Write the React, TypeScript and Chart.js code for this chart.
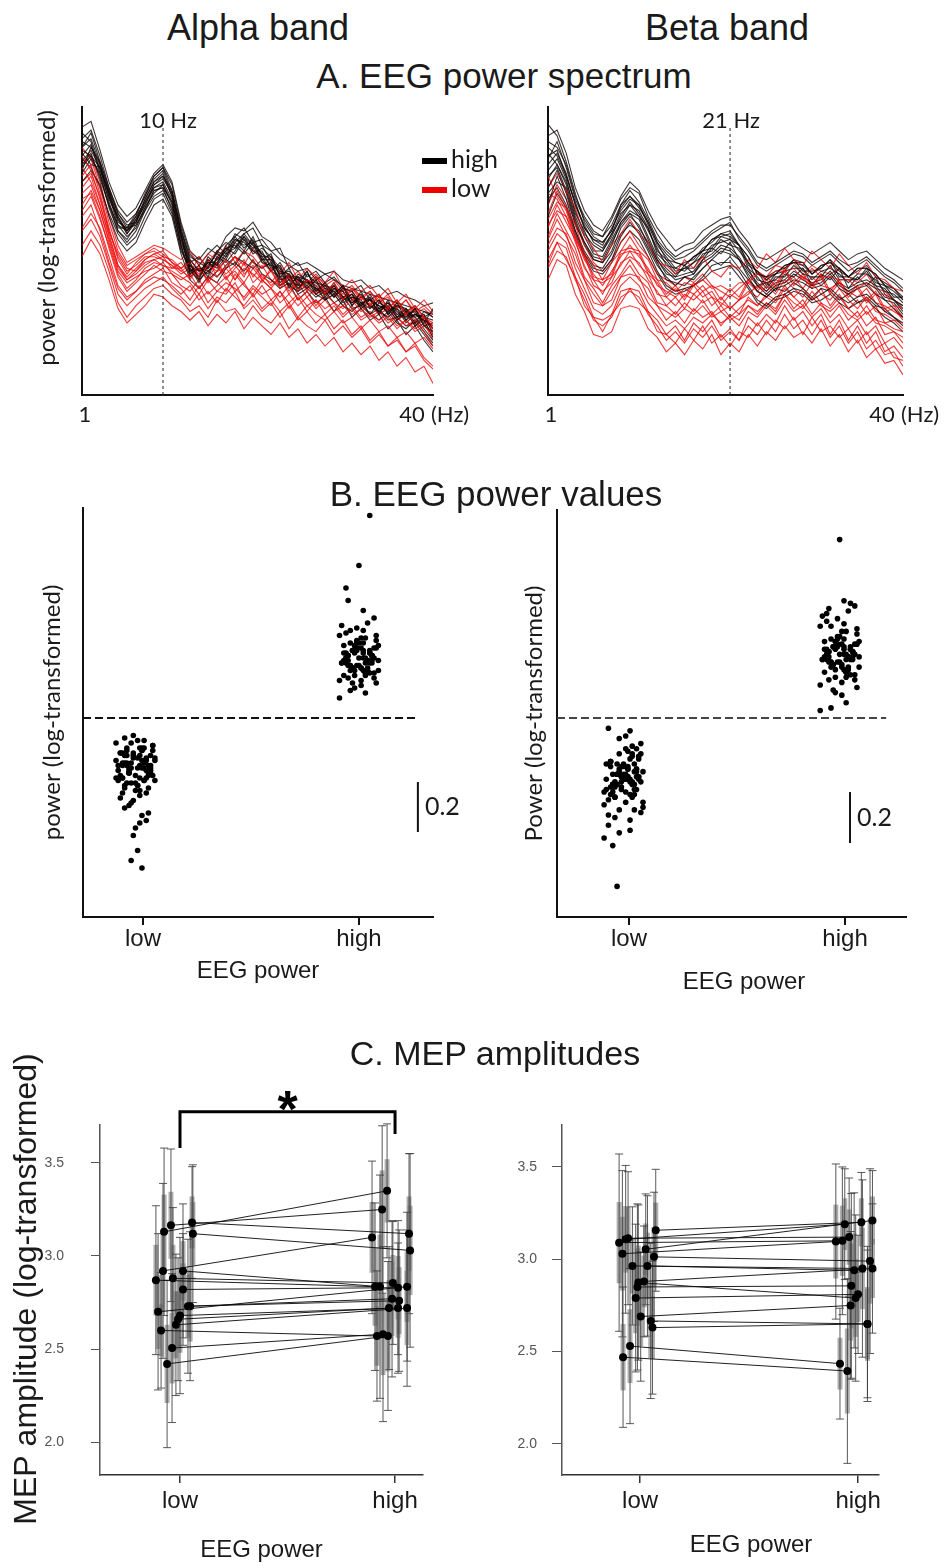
import React, { useEffect, useRef } from 'react';
import { Chart, registerables } from 'chart.js';
Chart.register(...registerables);

// ---------------- DATA ----------------
const HZ = [1,2,3,4,5,6,7,8,9,10,11,12,13,14,15,16,17,18,19,20,21,22,23,24,25,26,27,28,29,30,31,32,33,34,35,36,37,38,39,40];

// Panel A, alpha band: spectra of high-power (black) and low-power (red) trials (arbitrary log units, 0-100)
const alphaHighSpectra = [
  [86,89,80,69,61,56,61,68,74,77,69,55,46,40,47,45,52,55,51,54,47,49,41,44,38,43,36,39,35,38,31,36,30,33,28,32,26,30,24,22],
  [79,83,79,67,58,58,59,64,71,72,67,52,43,45,41,48,46,50,55,50,50,44,45,38,41,37,40,34,38,33,35,31,34,28,33,27,30,25,29,27],
  [91,88,78,70,62,57,62,67,73,76,71,58,47,43,44,50,53,51,56,52,49,47,43,42,36,42,39,38,34,37,36,32,33,31,29,31,30,27,28,21],
  [80,84,75,66,59,55,58,65,70,73,66,53,45,41,46,44,48,54,52,53,46,45,40,41,40,39,37,35,39,34,32,35,31,29,32,28,27,30,25,30],
  [84,80,79,71,63,59,60,66,73,75,70,56,42,44,43,46,51,49,54,49,51,48,44,37,42,40,35,37,36,32,34,33,28,32,30,26,29,27,23,19],
  [77,82,77,65,57,54,59,65,71,72,64,50,44,39,45,49,47,53,50,55,48,43,46,41,37,40,38,33,37,36,31,34,33,29,27,30,25,28,26,24],
  [88,86,80,70,60,58,63,69,75,78,70,57,48,46,44,47,50,56,54,51,52,46,42,43,40,38,41,37,34,38,33,31,35,30,32,29,26,28,27,26],
  [83,87,77,68,62,56,60,67,72,74,68,54,44,41,48,45,49,51,55,52,47,47,39,42,39,43,37,36,38,33,34,32,30,33,28,31,29,24,27,23],
  [81,85,79,69,59,57,61,66,72,73,67,55,43,44,42,48,51,52,49,53,49,45,44,40,38,39,39,35,36,36,32,34,31,30,31,27,28,29,24,25],
  [86,91,81,71,61,57,60,68,74,76,69,56,45,43,46,46,50,54,53,50,48,48,41,41,41,40,36,38,37,34,35,30,33,31,30,30,27,28,26,20],
  [74,78,73,62,54,50,53,60,66,68,62,49,40,37,41,39,44,46,43,47,42,40,37,39,33,36,32,34,29,33,27,30,26,28,23,26,21,24,19,15],
  [93,95,85,74,66,62,65,71,77,80,74,60,50,47,51,49,55,58,57,60,55,53,49,47,45,46,44,42,43,40,39,40,37,38,35,36,34,33,31,32],
  [85,83,76,66,57,53,57,64,69,71,65,52,41,44,40,43,47,45,50,46,44,46,38,40,35,37,34,36,32,34,30,31,28,30,26,27,24,25,21,17],
  [78,86,81,72,64,60,63,69,76,79,73,59,49,45,49,52,49,55,58,53,54,50,47,45,43,44,40,42,40,38,37,36,35,34,33,32,31,30,29,28],
  [82,79,72,63,56,52,55,62,68,70,63,51,43,40,43,41,45,48,46,44,47,43,41,38,36,38,35,33,35,31,29,32,28,26,29,25,23,26,22,18],
  [89,92,83,72,63,58,62,70,76,79,71,57,46,48,44,50,48,53,56,58,52,50,51,44,46,41,43,39,41,37,36,38,33,35,30,33,29,31,27,29],
];
const alphaLowSpectra = [
  [76,80,70,58,47,42,46,49,50,48,47,44,46,41,45,43,47,40,44,42,39,44,37,41,36,40,38,35,39,33,37,34,31,35,30,33,28,31,27,25],
  [62,66,57,46,37,33,36,40,42,44,39,37,33,38,32,36,35,39,33,37,34,31,36,30,34,29,33,28,31,27,30,26,28,25,27,23,26,22,24,21],
  [83,78,68,57,49,44,43,47,49,47,45,43,41,44,40,46,42,45,41,47,40,43,38,42,39,37,41,36,38,35,37,33,36,32,34,30,33,29,31,28],
  [52,57,52,43,32,27,31,34,37,38,35,33,29,31,27,33,29,30,26,31,27,25,29,23,27,24,22,26,21,24,20,23,18,21,17,19,15,17,12,9],
  [70,73,64,53,43,39,41,43,44,46,42,40,42,37,41,39,36,42,38,35,40,37,34,38,33,36,31,35,32,30,33,29,31,28,30,26,28,25,27,24],
  [58,63,58,48,38,34,36,39,41,40,38,35,38,33,36,32,37,34,31,35,30,33,29,32,27,31,28,26,29,25,27,23,26,22,24,20,22,18,20,16],
  [79,74,66,56,45,40,42,45,47,48,44,44,40,45,39,43,44,40,46,39,42,38,41,36,40,37,35,39,34,37,33,35,31,34,29,32,28,30,26,23],
  [48,54,49,40,30,25,28,31,35,34,31,29,26,29,24,28,25,29,23,27,24,21,25,20,23,18,21,17,20,15,18,14,17,12,15,10,13,8,10,4],
  [68,70,62,51,41,36,39,42,45,43,42,38,36,40,35,38,41,36,39,34,38,33,36,32,35,31,33,30,32,28,31,27,29,26,28,24,26,23,25,19],
  [64,69,61,52,42,37,40,44,46,45,43,41,39,35,40,36,39,37,34,38,35,37,32,35,31,34,30,33,29,31,28,30,27,29,25,27,24,26,22,17],
  [80,83,74,62,52,46,48,50,52,51,49,47,50,45,49,47,52,46,50,48,44,48,42,46,40,44,41,39,43,37,40,36,38,34,37,32,35,30,33,29],
  [72,76,66,55,45,41,44,47,49,50,46,43,45,42,47,41,44,48,42,45,41,39,43,38,41,36,40,35,37,34,36,31,34,30,32,28,30,26,28,23],
  [66,71,64,54,44,40,43,46,47,45,44,46,42,48,43,45,40,44,47,41,45,40,38,42,37,40,35,38,36,33,35,31,33,29,31,27,29,24,26,20],
  [86,82,72,60,50,45,47,49,51,49,46,44,47,43,46,50,44,48,45,51,46,43,45,40,43,39,42,38,40,36,38,34,36,32,35,30,33,28,30,27],
  [57,61,55,45,35,31,34,37,39,41,37,34,31,35,30,34,32,36,30,33,29,32,27,31,26,29,25,28,23,26,21,24,19,22,17,20,15,18,13,10],
  [74,77,69,57,48,43,45,48,48,47,45,42,44,40,43,46,41,43,39,44,40,37,41,35,39,34,37,33,35,31,34,30,32,28,30,26,28,25,27,22],
];
// Panel A, beta band
const betaHighSpectra = [
  [80,84,77,66,58,54,52,58,64,68,66,59,52,48,44,46,47,51,53,56,55,52,46,43,40,42,45,46,45,42,45,46,43,41,44,44,42,38,36,33],
  [72,78,70,59,53,47,46,50,58,62,59,52,46,40,39,38,41,44,47,50,49,47,41,36,34,37,38,40,39,37,38,41,37,35,37,38,35,33,30,27],
  [88,86,80,69,62,57,55,61,68,72,70,62,56,51,48,50,51,54,57,59,59,55,51,46,44,46,48,50,49,46,48,50,47,45,46,48,45,42,40,37],
  [66,76,68,57,49,44,43,47,55,60,56,50,43,38,36,37,38,41,45,46,46,43,38,33,31,34,35,37,36,33,35,37,34,32,34,35,32,29,27,24],
  [94,90,81,70,60,55,53,57,65,69,66,60,53,49,46,45,48,50,54,55,56,52,48,42,41,43,44,47,46,42,44,47,44,41,43,45,41,39,37,34],
  [78,82,75,63,57,50,50,56,61,66,62,58,49,46,42,44,44,49,50,54,52,51,44,41,37,41,41,45,42,41,41,45,40,40,40,43,38,37,33,31],
  [83,85,76,67,58,54,53,57,66,69,65,60,53,47,46,45,48,50,54,56,57,52,48,42,41,42,45,46,46,42,45,46,44,41,44,44,42,38,37,33],
  [70,74,72,61,53,48,47,53,59,63,61,54,47,43,40,41,42,46,48,51,50,47,42,38,35,38,39,42,40,38,39,42,38,36,38,39,37,33,32,28],
  [84,80,74,64,56,52,50,55,62,67,63,57,51,45,44,43,46,48,52,53,54,50,46,40,39,40,43,44,44,40,43,44,42,39,42,42,40,36,35,32],
  [75,80,73,62,55,49,48,54,60,64,62,55,48,44,41,42,43,47,49,52,51,48,43,39,36,39,40,43,41,39,40,43,39,37,39,40,38,34,33,29],
  [68,72,66,57,50,45,44,49,56,59,57,51,45,41,38,41,40,44,47,45,48,44,40,36,34,37,36,39,37,34,37,36,33,35,32,34,31,30,27,25],
  [90,92,84,72,64,59,57,62,69,74,71,64,58,54,50,52,53,57,59,61,62,57,53,48,47,49,51,53,51,49,51,53,50,47,49,50,47,44,42,40],
  [76,79,71,60,52,47,46,52,60,63,58,53,47,42,41,45,42,47,51,49,53,47,44,38,39,36,42,41,44,38,42,40,44,37,41,38,41,35,33,30],
  [82,88,79,68,61,56,55,59,66,71,67,61,54,50,47,48,50,53,56,58,60,54,50,45,43,45,47,49,48,45,47,49,46,43,45,47,44,41,39,36],
  [62,70,65,56,48,43,42,46,53,57,54,48,42,37,35,36,38,40,43,44,45,41,37,32,30,33,34,36,35,32,33,35,32,30,32,33,30,27,25,22],
  [86,83,76,66,59,53,51,56,63,66,64,58,50,47,43,44,46,50,51,55,54,52,45,43,38,42,43,47,43,43,44,47,41,41,40,44,39,38,34,34],
];
const betaLowSpectra = [
  [63,71,65,59,49,45,40,46,50,55,50,47,40,39,36,39,38,40,37,38,36,39,39,42,40,43,43,44,40,44,41,41,40,40,37,39,35,35,31,30],
  [47,53,51,41,35,27,26,28,36,37,36,29,26,21,24,19,25,22,26,20,23,19,27,24,28,25,31,26,29,24,28,21,26,19,24,18,22,15,17,13],
  [72,77,71,65,55,51,46,52,56,61,56,53,46,45,42,47,44,48,43,41,45,44,47,44,49,46,51,47,45,50,47,44,49,45,42,46,41,40,37,36],
  [40,47,45,35,29,21,20,22,30,31,30,23,20,15,18,14,19,16,21,14,18,15,21,17,22,19,24,20,22,18,23,17,21,15,19,13,16,11,12,7],
  [58,66,60,54,44,40,35,41,45,50,45,42,35,34,31,35,33,36,31,34,30,33,36,34,38,35,40,37,34,39,35,33,37,33,30,34,29,28,26,25],
  [52,58,56,46,40,32,31,33,41,42,41,34,31,26,29,25,30,27,29,24,28,26,31,28,32,29,35,30,33,28,32,27,31,26,29,24,27,21,22,18],
  [76,69,64,54,48,40,39,41,49,50,49,42,39,34,37,33,38,34,36,31,35,33,39,36,40,37,43,38,41,37,41,35,39,34,37,32,35,29,30,26],
  [45,53,47,41,31,27,22,28,32,37,32,29,22,21,18,23,19,24,18,21,17,22,20,25,21,26,23,27,21,27,22,24,20,23,18,22,16,18,13,12],
  [61,67,65,55,49,41,40,42,50,51,50,43,40,35,38,34,39,36,38,33,37,34,40,37,41,38,44,39,42,38,42,36,40,35,38,33,36,30,31,27],
  [55,63,57,51,41,37,32,38,42,47,42,39,32,31,28,32,29,33,28,31,27,30,33,31,34,32,37,34,31,36,32,30,34,30,27,31,26,25,23,22],
  [66,73,68,60,52,46,43,47,53,57,52,48,42,40,38,41,39,42,38,36,34,37,40,43,41,45,44,46,42,45,43,42,44,41,39,42,37,36,33,31],
  [50,56,53,44,37,30,28,31,38,41,38,32,28,24,26,23,27,25,28,25,27,24,29,27,31,28,33,29,31,27,30,25,28,23,26,21,24,18,20,16],
  [70,68,62,55,47,42,38,43,48,52,48,44,38,36,34,37,35,38,34,32,30,33,35,38,36,40,39,41,37,41,38,37,39,36,34,37,32,31,29,27],
  [44,50,48,40,33,26,24,27,34,36,34,28,24,19,22,18,23,20,24,19,22,19,24,21,26,22,28,23,26,21,26,20,24,18,22,16,19,14,15,10],
  [59,64,62,53,45,38,36,39,46,48,46,40,36,31,34,30,35,32,34,29,31,28,34,31,35,33,38,34,37,33,37,31,35,30,33,28,31,25,26,23],
  [54,61,55,49,40,35,31,36,41,45,40,37,31,29,27,30,28,31,27,29,26,28,31,29,32,30,35,32,30,34,31,29,32,28,26,29,25,24,22,20],
];
const PEAK_ALPHA_HZ = 10;
const PEAK_BETA_HZ = 21;

// Panel B: single-trial power values relative to the median split (0 = dashed line)
const JITTER = [
  0.02,-0.05,0.07,-0.01,0.04,-0.08,0.01,0.06,-0.03,0.09,
  -0.06,0.03,-0.02,0.05,-0.09,0.0,0.08,-0.04,0.02,-0.07,
  0.06,-0.01,0.04,-0.05,0.01,-0.03,0.07,-0.06,0.03,0.0,
  -0.08,0.05,-0.02,0.09,-0.04,0.02,-0.07,0.06,-0.01,0.03,
  -0.05,0.08,-0.03,0.01,-0.06,0.04,-0.09,0.02,0.05,-0.02,
  0.07,-0.04,0.0,0.03,-0.07,0.06,-0.01,0.04,-0.05,0.08,
  -0.03,0.01,-0.08,0.05,-0.02,0.03,-0.06,0.07,-0.04,0.02,
  -0.01,0.06,-0.05,0.0,0.09,-0.03,0.04,-0.07,0.01,0.05,
  -0.02,0.03,-0.06,0.08,-0.04,0.02,-0.09,0.06,-0.01,0.04,
  -0.05,0.07,-0.03,0.01,-0.02,0.03,-0.06,0.05,-0.04,0.02];
const alphaLowPower = [
  -0.12,-0.18,-0.22,-0.15,-0.25,-0.19,-0.09,-0.28,-0.21,-0.16,
  -0.24,-0.13,-0.2,-0.3,-0.17,-0.23,-0.11,-0.26,-0.19,-0.14,
  -0.22,-0.33,-0.18,-0.08,-0.27,-0.2,-0.15,-0.24,-0.12,-0.29,
  -0.21,-0.17,-0.1,-0.25,-0.19,-0.31,-0.14,-0.23,-0.16,-0.2,
  -0.36,-0.13,-0.22,-0.27,-0.18,-0.09,-0.24,-0.15,-0.21,-0.34,
  -0.19,-0.12,-0.26,-0.17,-0.23,-0.38,-0.14,-0.2,-0.28,-0.11,
  -0.22,-0.16,-0.25,-0.41,-0.18,-0.13,-0.3,-0.21,-0.15,-0.24,
  -0.07,-0.19,-0.27,-0.44,-0.17,-0.22,-0.12,-0.32,-0.2,-0.16,
  -0.26,-0.39,-0.14,-0.23,-0.18,-0.29,-0.1,-0.21,-0.47,-0.25,
  -0.15,-0.2,-0.35,-0.53,-0.57,-0.6,-0.19,-0.24,-0.13,-0.42];
const alphaHighPower = [
  0.22,0.28,0.18,0.25,0.31,0.2,0.15,0.26,0.23,0.33,
  0.19,0.27,0.12,0.24,0.3,0.21,0.17,0.29,0.25,0.36,
  0.2,0.23,0.14,0.27,0.32,0.22,0.18,0.26,0.1,0.24,
  0.28,0.19,0.35,0.21,0.25,0.16,0.3,0.23,0.2,0.38,
  0.26,0.13,0.22,0.29,0.18,0.24,0.33,0.21,0.27,0.15,
  0.23,0.31,0.19,0.25,0.4,0.2,0.28,0.17,0.22,0.34,
  0.26,0.11,0.24,0.3,0.21,0.18,0.27,0.23,0.37,0.2,
  0.25,0.14,0.29,0.22,0.32,0.19,0.26,0.08,0.24,0.28,
  0.21,0.43,0.17,0.25,0.3,0.23,0.47,0.2,0.27,0.16,
  0.52,0.24,0.61,0.22,0.81,0.29,0.19,0.35,0.26,0.23];
const betaLowPower = [
  -0.2,-0.26,-0.15,-0.23,-0.31,-0.18,-0.12,-0.28,-0.22,-0.35,
  -0.17,-0.25,-0.08,-0.21,-0.29,-0.19,-0.14,-0.27,-0.24,-0.38,
  -0.2,-0.23,-0.11,-0.26,-0.33,-0.22,-0.16,-0.3,-0.05,-0.24,
  -0.28,-0.18,-0.36,-0.21,-0.25,-0.13,-0.32,-0.23,-0.19,-0.4,
  -0.27,-0.1,-0.22,-0.29,-0.17,-0.25,-0.34,-0.2,-0.26,-0.14,
  -0.23,-0.31,-0.18,-0.24,-0.42,-0.21,-0.28,-0.15,-0.22,-0.37,
  -0.26,-0.07,-0.24,-0.3,-0.2,-0.16,-0.27,-0.23,-0.39,-0.19,
  -0.25,-0.12,-0.29,-0.22,-0.33,-0.18,-0.26,-0.04,-0.24,-0.28,
  -0.21,-0.44,-0.17,-0.25,-0.31,-0.23,-0.47,-0.2,-0.27,-0.14,
  -0.5,-0.24,-0.66,-0.22,-0.45,-0.3,-0.19,-0.36,-0.26,-0.23];
const betaHighPower = [
  0.23,0.29,0.18,0.26,0.33,0.21,0.14,0.27,0.24,0.36,
  0.19,0.28,0.1,0.25,0.31,0.22,0.16,0.3,0.26,0.39,
  0.2,0.24,0.12,0.28,0.34,0.23,0.17,0.27,0.06,0.25,
  0.29,0.2,0.37,0.22,0.26,0.15,0.32,0.24,0.21,0.42,
  0.27,0.09,0.23,0.3,0.18,0.25,0.35,0.22,0.28,0.13,
  0.24,0.32,0.19,0.26,0.44,0.21,0.29,0.16,0.23,0.38,
  0.27,0.04,0.25,0.31,0.22,0.17,0.28,0.24,0.4,0.2,
  0.26,0.11,0.3,0.23,0.34,0.19,0.27,0.03,0.25,0.29,
  0.22,0.46,0.18,0.26,0.31,0.24,0.43,0.21,0.28,0.15,
  0.41,0.25,0.7,0.23,0.45,0.3,0.2,0.36,0.27,0.24];
const CLOUD_X = { alphaLow: 0.965, alphaHigh: 2.0, betaLow: 0.975, betaHigh: 1.975 };
const SCALE_BAR = 0.2;

// Panel C: per-subject MEP amplitudes (log) for low / high EEG power
const alphaMepLow  = [3.13,3.165,3.18,3.12,2.92,2.87,2.92,2.88,2.82,2.70,2.73,2.73,2.66,2.68,2.63,2.60,2.505,2.42];
const alphaMepHigh = [3.35,3.25,3.12,3.03,3.10,2.835,2.835,2.855,2.83,2.835,2.77,2.76,2.72,2.72,2.72,2.57,2.58,2.57];
const alphaLowJit  = [-0.074,-0.042,0.056,0.06,-0.079,-0.112,0.014,-0.033,0.014,-0.102,0.037,0.047,-0.009,0.0,-0.019,-0.088,-0.037,-0.06];
const alphaHighJit = [-0.037,-0.06,0.065,0.07,-0.107,-0.093,-0.07,-0.01,0.014,0.056,-0.014,0.019,-0.028,0.014,0.056,-0.084,-0.056,-0.033];
const alphaLowSD   = [0.45,0.41,0.3,0.37,0.47,0.4,0.36,0.38,0.3,0.42,0.36,0.4,0.33,0.42,0.38,0.31,0.4,0.45];
const alphaHighSD  = [0.36,0.45,0.43,0.52,0.41,0.45,0.6,0.33,0.36,0.4,0.42,0.38,0.33,0.35,0.42,0.35,0.47,0.4];
const alphaLowSE   = [0.2,0.18,0.14,0.17,0.22,0.19,0.16,0.18,0.14,0.2,0.17,0.19,0.15,0.2,0.18,0.14,0.19,0.21];
const alphaHighSE  = [0.17,0.21,0.2,0.24,0.19,0.21,0.28,0.15,0.17,0.19,0.2,0.18,0.15,0.16,0.2,0.16,0.22,0.19];

const betaMepLow  = [3.09,3.03,3.108,3.114,3.157,3.054,3.013,2.964,2.964,2.85,2.79,2.874,2.69,2.666,2.63,2.47,2.53,2.88];
const betaMepHigh = [3.10,3.096,3.19,3.12,3.20,3.21,2.99,2.95,2.94,2.856,2.81,2.79,2.75,2.65,2.65,2.395,2.435,2.95];
const betaLowJit  = [-0.096,-0.081,-0.066,-0.055,0.072,0.026,0.064,-0.035,0.034,-0.012,-0.02,-0.008,0.003,0.049,0.057,-0.078,-0.046,0.018];
const betaHighJit = [-0.072,-0.102,-0.061,-0.041,0.015,0.066,0.055,0.02,-0.018,-0.031,0.0,-0.011,-0.034,0.043,0.043,-0.049,-0.083,0.066];
const betaLowSD   = [0.48,0.45,0.4,0.36,0.33,0.3,0.35,0.32,0.38,0.45,0.4,0.42,0.35,0.42,0.36,0.38,0.42,0.3];
const betaHighSD  = [0.4,0.42,0.3,0.32,0.27,0.27,0.5,0.48,0.42,0.5,0.32,0.45,0.4,0.42,0.4,0.5,0.3,0.35];
const betaLowSE   = [0.22,0.2,0.18,0.17,0.15,0.14,0.16,0.15,0.18,0.21,0.19,0.2,0.16,0.2,0.17,0.18,0.2,0.14];
const betaHighSE  = [0.19,0.2,0.14,0.15,0.13,0.13,0.23,0.22,0.2,0.23,0.15,0.21,0.19,0.2,0.19,0.23,0.14,0.16];

const MEP_TICKS = [2.0, 2.5, 3.0, 3.5];
const GROUPS = ['low', 'high'];
const BRACKET = { y: 3.775, lowEnd: 3.58, highEnd: 3.655 };

// ---------------- LAYOUT HELPERS ----------------
type Rect = { x: number; y: number; w: number; h: number };
type Plot = { l: number; t: number; r: number; b: number };
const ARIAL = '"Liberation Sans", Arial, sans-serif';
const CAL = 'Lato, "Open Sans", sans-serif';
const INK = '#1a1a1a';

function frame(cv: Rect, p: Plot) {
  return {
    layout: { padding: { left: 0, top: p.t - cv.y, right: cv.x + cv.w - p.r, bottom: 0 } },
    yFit: (s: any) => { s.width = p.l - cv.x; s.paddingTop = 0; s.paddingBottom = 0; },
    xFit: (s: any) => { s.height = cv.y + cv.h - p.b; s.paddingLeft = 0; s.paddingRight = 0; },
  };
}

function text(ctx: CanvasRenderingContext2D, t: string, x: number, y: number, font: string, align: CanvasTextAlign = 'center', rot = 0, color = INK) {
  ctx.save();
  ctx.translate(x, y);
  if (rot) ctx.rotate(rot);
  ctx.font = font;
  ctx.fillStyle = color;
  ctx.textAlign = align;
  ctx.textBaseline = 'middle';
  ctx.fillText(t, 0, 0);
  ctx.restore();
}

const baseOpts = {
  animation: false,
  responsive: false,
  maintainAspectRatio: false,
  events: [],
  plugins: { legend: { display: false }, tooltip: { enabled: false }, title: { display: false } },
};

// ---------------- PANEL A ----------------
function spectrumConfig(cv: Rect, p: Plot, black: number[][], red: number[][], peakHz: number, peakLabel: string, labelDx: number, legend: boolean, yTitle: boolean) {
  const f = frame(cv, p);
  const datasets: any[] = [];
  for (let i = 0; i < Math.max(black.length, red.length); i++) {
    if (black[i]) datasets.push({ data: HZ.map((h, j) => ({ x: h, y: black[i][j] })), borderColor: 'rgba(20,8,8,0.82)', borderWidth: 1.1, pointRadius: 0, tension: 0 });
    if (red[i]) datasets.push({ data: HZ.map((h, j) => ({ x: h, y: red[i][j] })), borderColor: 'rgba(238,12,12,0.82)', borderWidth: 1.1, pointRadius: 0, tension: 0 });
  }
  const deco = {
    id: 'spectrumDeco',
    afterDatasetsDraw(chart: any) {
      const { ctx, chartArea: a, scales: { x } } = chart;
      const px = x.getPixelForValue(peakHz);
      ctx.save();
      ctx.strokeStyle = '#222';
      ctx.lineWidth = 1;
      ctx.setLineDash([3, 3]);
      ctx.beginPath();
      ctx.moveTo(px, a.top + 21);
      ctx.lineTo(px, a.bottom);
      ctx.stroke();
      ctx.restore();
      text(ctx, peakLabel, px + labelDx, a.top + 14, `22px ${CAL}`);
      const x1 = x.getPixelForValue(HZ[0]);
      const x40 = x.getPixelForValue(HZ[HZ.length - 1]);
      text(ctx, String(HZ[0]), x1 + 3, a.bottom + 20, `22px ${CAL}`);
      text(ctx, String(HZ[HZ.length - 1]), x40 - 21, a.bottom + 20, `22px ${CAL}`);
      text(ctx, '(Hz)', x40 - 2, a.bottom + 20, `22px ${CAL}`, 'left');
      if (legend) {
        ctx.fillStyle = '#000';
        ctx.fillRect(a.right - 11, a.top + 51, 25, 6);
        ctx.fillStyle = '#ee0000';
        ctx.fillRect(a.right - 11, a.top + 80, 25, 6);
        text(ctx, 'high', a.right + 18, a.top + 53, `25px ${CAL}`, 'left');
        text(ctx, 'low', a.right + 18, a.top + 82, `25px ${CAL}`, 'left');
      }
      if (yTitle) text(ctx, 'power (log-transformed)', 47 - cv.x, 238 - cv.y, `24px ${CAL}`, 'center', -Math.PI / 2);
    },
  };
  return {
    type: 'line',
    data: { datasets },
    options: {
      ...baseOpts,
      layout: f.layout,
      scales: {
        x: { type: 'linear', min: HZ[0], max: HZ[HZ.length - 1], afterFit: f.xFit, grid: { display: false }, ticks: { display: false }, border: { display: true, color: '#111', width: 2 } },
        y: { type: 'linear', min: 0, max: 100, afterFit: f.yFit, grid: { display: false }, ticks: { display: false }, border: { display: true, color: '#111', width: 2 } },
      },
    },
    plugins: [deco],
  };
}

// ---------------- PANEL B ----------------
function powerConfig(cv: Rect, p: Plot, low: number[], high: number[], lowX: number, highX: number, xMin: number, xMax: number, yMin: number, yMax: number,
  dashEnd: number, barX: number, barTop: number, dashColor: string, yTitleText: string, yTitlePad: number, xTitleChart: boolean, xTitlePage: [number, number] | null) {
  const f = frame(cv, p);
  const n = JITTER.length;
  const lowPts = low.map((v, i) => ({ x: lowX + JITTER[i % n], y: v }));
  const highPts = high.map((v, i) => ({ x: highX + JITTER[(i + 37) % n], y: v }));
  const deco = {
    id: 'powerDeco',
    beforeDatasetsDraw(chart: any) {
      const { ctx, chartArea: a, scales: { x, y } } = chart;
      ctx.save();
      ctx.strokeStyle = dashColor;
      ctx.lineWidth = 2;
      ctx.setLineDash([8, 4]);
      const y0 = y.getPixelForValue(0);
      ctx.beginPath();
      ctx.moveTo(a.left, y0);
      ctx.lineTo(x.getPixelForValue(dashEnd), y0);
      ctx.stroke();
      ctx.setLineDash([]);
      ctx.strokeStyle = '#111';
      const bx = x.getPixelForValue(barX);
      ctx.beginPath();
      ctx.moveTo(bx, y.getPixelForValue(barTop));
      ctx.lineTo(bx, y.getPixelForValue(barTop - SCALE_BAR));
      ctx.stroke();
      ctx.restore();
      text(ctx, String(SCALE_BAR), bx + 7, y.getPixelForValue(barTop - SCALE_BAR / 2), `25px ${CAL}`, 'left');
      if (xTitlePage) text(ctx, 'EEG power', xTitlePage[0] - cv.x, xTitlePage[1] - cv.y, `24px ${ARIAL}`);
    },
  };
  return {
    type: 'scatter',
    data: {
      datasets: [
        { data: lowPts, pointRadius: 2.8, pointStyle: 'circle', backgroundColor: '#000', borderWidth: 0 },
        { data: highPts, pointRadius: 2.8, pointStyle: 'circle', backgroundColor: '#000', borderWidth: 0 },
      ],
    },
    options: {
      ...baseOpts,
      layout: f.layout,
      scales: {
        x: {
          type: 'linear', min: xMin, max: xMax, afterFit: f.xFit,
          afterBuildTicks: (s: any) => { s.ticks = [{ value: 1 }, { value: 2 }]; },
          ticks: { callback: (v: number) => GROUPS[v - 1], font: { family: ARIAL, size: 24 }, color: INK, padding: 0, maxRotation: 0, autoSkip: false },
          grid: { display: true, drawOnChartArea: false, drawTicks: true, tickLength: 8, color: '#111', lineWidth: 2 },
          border: { display: true, color: '#111', width: 2 },
          title: { display: xTitleChart, text: 'EEG power', font: { family: ARIAL, size: 24 }, color: INK, padding: { top: 0, bottom: 14 } },
        },
        y: {
          type: 'linear', min: yMin, max: yMax, afterFit: f.yFit,
          grid: { display: false }, ticks: { display: false },
          border: { display: true, color: '#111', width: 2 },
          title: { display: true, text: yTitleText, font: { family: CAL, size: 24 }, color: INK, padding: { top: yTitlePad, bottom: 0 } },
        },
      },
    },
    plugins: [deco],
  };
}

// ---------------- PANEL C ----------------
function mepConfig(cv: Rect, p: Plot, xMin: number, xMax: number, yMin: number, yMax: number,
  low: number[], high: number[], lowJ: number[], highJ: number[], lowSD: number[], highSD: number[], lowSE: number[], highSE: number[],
  tickPad: number, tickLen: number, extras: { yTitle?: boolean; bracket?: boolean; xTitleChart: boolean; xTitlePage?: [number, number] }) {
  const f = frame(cv, p);
  const datasets = low.map((v, i) => ({
    data: [{ x: 1 + lowJ[i], y: v }, { x: 2 + highJ[i], y: high[i] }],
    borderColor: 'rgba(10,10,10,0.9)', borderWidth: 1, pointRadius: 4, pointBackgroundColor: '#000', pointBorderWidth: 0, showLine: true, tension: 0,
  }));
  const deco = {
    id: 'mepDeco',
    beforeDatasetsDraw(chart: any) {
      const { ctx, scales: { x, y } } = chart;
      ctx.save();
      chart.data.datasets.forEach((ds: any, i: number) => {
        ds.data.forEach((pt: any, j: number) => {
          const px = x.getPixelForValue(pt.x);
          const se = j === 0 ? lowSE[i] : highSE[i];
          const sd = j === 0 ? lowSD[i] : highSD[i];
          const s1 = y.getPixelForValue(pt.y + se), s2 = y.getPixelForValue(pt.y - se);
          ctx.fillStyle = 'rgba(110,110,110,0.55)';
          ctx.fillRect(px - 2.5, s1, 5, s2 - s1);
          const t = y.getPixelForValue(pt.y + sd), b = y.getPixelForValue(pt.y - sd);
          ctx.strokeStyle = 'rgba(60,60,60,0.85)';
          ctx.lineWidth = 1;
          ctx.beginPath();
          ctx.moveTo(px, t); ctx.lineTo(px, b);
          ctx.moveTo(px - 4, t); ctx.lineTo(px + 4, t);
          ctx.moveTo(px - 4, b); ctx.lineTo(px + 4, b);
          ctx.stroke();
        });
      });
      ctx.restore();
    },
    afterDatasetsDraw(chart: any) {
      const { ctx, scales: { x, y } } = chart;
      if (extras.bracket) {
        const xl = x.getPixelForValue(1), xr = x.getPixelForValue(2), yt = y.getPixelForValue(BRACKET.y);
        ctx.save();
        ctx.strokeStyle = '#000';
        ctx.lineWidth = 3;
        ctx.beginPath();
        ctx.moveTo(xl, y.getPixelForValue(BRACKET.lowEnd));
        ctx.lineTo(xl, yt);
        ctx.lineTo(xr, yt);
        ctx.lineTo(xr, y.getPixelForValue(BRACKET.highEnd));
        ctx.stroke();
        ctx.restore();
        ctx.save();
        ctx.font = `bold 52px ${ARIAL}`;
        ctx.fillStyle = '#000';
        ctx.textAlign = 'center';
        ctx.textBaseline = 'alphabetic';
        ctx.fillText('*', (xl + xr) / 2, yt + 15);
        ctx.restore();
      }
      if (extras.yTitle) text(ctx, 'MEP amplitude (log-transformed)', 27 - cv.x, 1289 - cv.y, `32px ${ARIAL}`, 'center', -Math.PI / 2);
      if (extras.xTitlePage) text(ctx, 'EEG power', extras.xTitlePage[0] - cv.x, extras.xTitlePage[1] - cv.y, `24px ${ARIAL}`);
    },
  };
  return {
    type: 'line',
    data: { datasets },
    options: {
      ...baseOpts,
      layout: f.layout,
      scales: {
        x: {
          type: 'linear', min: xMin, max: xMax, afterFit: f.xFit,
          afterBuildTicks: (s: any) => { s.ticks = [{ value: 1 }, { value: 2 }]; },
          ticks: { callback: (v: number) => GROUPS[v - 1], font: { family: ARIAL, size: 24 }, color: INK, padding: 4, maxRotation: 0, autoSkip: false },
          grid: { display: true, drawOnChartArea: false, drawTicks: true, tickLength: 8, color: '#333', lineWidth: 1.5 },
          border: { display: true, color: '#333', width: 1.5 },
          title: { display: extras.xTitleChart, text: 'EEG power', font: { family: ARIAL, size: 24 }, color: INK, padding: { top: 0, bottom: 3 } },
        },
        y: {
          type: 'linear', min: yMin, max: yMax, afterFit: f.yFit,
          afterBuildTicks: (s: any) => { s.ticks = MEP_TICKS.map((v) => ({ value: v })); },
          ticks: { callback: (v: number) => v.toFixed(1), font: { family: ARIAL, size: 14 }, color: '#555', padding: tickPad },
          grid: { display: true, drawOnChartArea: false, drawTicks: true, tickLength: tickLen, color: '#555', lineWidth: 1 },
          border: { display: true, color: '#555', width: 1.5 },
        },
      },
    },
    plugins: [deco],
  };
}

// ---------------- COMPONENTS ----------------
function ChartCanvas({ rect, make }: { rect: Rect; make: () => any }) {
  const ref = useRef<HTMLCanvasElement | null>(null);
  useEffect(() => {
    const chart = new Chart(ref.current as HTMLCanvasElement, make());
    return () => chart.destroy();
  }, []);
  return (
    <canvas ref={ref} width={rect.w} height={rect.h}
      style={{ position: 'absolute', left: rect.x, top: rect.y, width: rect.w, height: rect.h, display: 'block' }} />
  );
}

function Label({ x, y, size, children }: { x: number; y: number; size: number; children: React.ReactNode }) {
  return (
    <div style={{ position: 'absolute', left: x, top: y, transform: 'translate(-50%,-50%)', fontSize: size, lineHeight: 1, whiteSpace: 'nowrap', fontFamily: ARIAL, color: INK }}>
      {children}
    </div>
  );
}

const cvAL: Rect = { x: 0, y: 95, w: 515, h: 345 };
const cvAR: Rect = { x: 520, y: 95, w: 428, h: 345 };
const cvBL: Rect = { x: 0, y: 500, w: 480, h: 500 };
const cvBR: Rect = { x: 490, y: 500, w: 458, h: 500 };
const cvCL: Rect = { x: 0, y: 1030, w: 474, h: 538 };
const cvCR: Rect = { x: 480, y: 1070, w: 468, h: 498 };

export default function App() {
  return (
    <div style={{ position: 'absolute', left: 0, top: 0, width: 948, height: 1568, background: '#fff', overflow: 'hidden' }}>
      <ChartCanvas rect={cvAL} make={() => spectrumConfig(cvAL, { l: 82, t: 107, r: 433, b: 395 }, alphaHighSpectra, alphaLowSpectra, PEAK_ALPHA_HZ, '10 Hz', 5, true, true)} />
      <ChartCanvas rect={cvAR} make={() => spectrumConfig(cvAR, { l: 548, t: 107, r: 903, b: 395 }, betaHighSpectra, betaLowSpectra, PEAK_BETA_HZ, '21 Hz', 1, false, false)} />

      <ChartCanvas rect={cvBL} make={() => powerConfig(cvBL, { l: 83, t: 508, r: 433, b: 917 }, alphaLowPower, alphaHighPower, CLOUD_X.alphaLow, CLOUD_X.alphaHigh,
        0.722, 2.343, -0.796, 0.84, 2.26, 2.273, -0.256, '#111', 'power (log-transformed)', 37.6, true, null)} />
      <ChartCanvas rect={cvBR} make={() => powerConfig(cvBR, { l: 557, t: 510, r: 906, b: 917 }, betaLowPower, betaHighPower, CLOUD_X.betaLow, CLOUD_X.betaHigh,
        0.667, 2.282, -0.78, 0.816, 2.19, 2.023, -0.29, '#444', 'Power (log-transformed)', 29.6, false, [744, 982])} />

      <ChartCanvas rect={cvCL} make={() => mepConfig(cvCL, { l: 100, t: 1125, r: 423, b: 1475 }, 0.628, 2.13, 1.823, 3.704,
        alphaMepLow, alphaMepHigh, alphaLowJit, alphaHighJit, alphaLowSD, alphaHighSD, alphaLowSE, alphaHighSE, 27, 9, { yTitle: true, bracket: true, xTitleChart: true })} />
      <ChartCanvas rect={cvCR} make={() => mepConfig(cvCR, { l: 562, t: 1125, r: 879, b: 1475 }, 0.642, 2.096, 1.832, 3.727,
        betaMepLow, betaMepHigh, betaLowJit, betaHighJit, betaLowSD, betaHighSD, betaLowSE, betaHighSE, 15, 10, { xTitleChart: false, xTitlePage: [751, 1545] })} />

      <Label x={258} y={28} size={36}>Alpha band</Label>
      <Label x={727} y={28} size={36}>Beta band</Label>
      <Label x={504} y={75} size={35}>A. EEG power spectrum</Label>
      <Label x={496} y={493} size={35}>B. EEG power values</Label>
      <Label x={495} y={1053} size={34}>C. MEP amplitudes</Label>
    </div>
  );
}
